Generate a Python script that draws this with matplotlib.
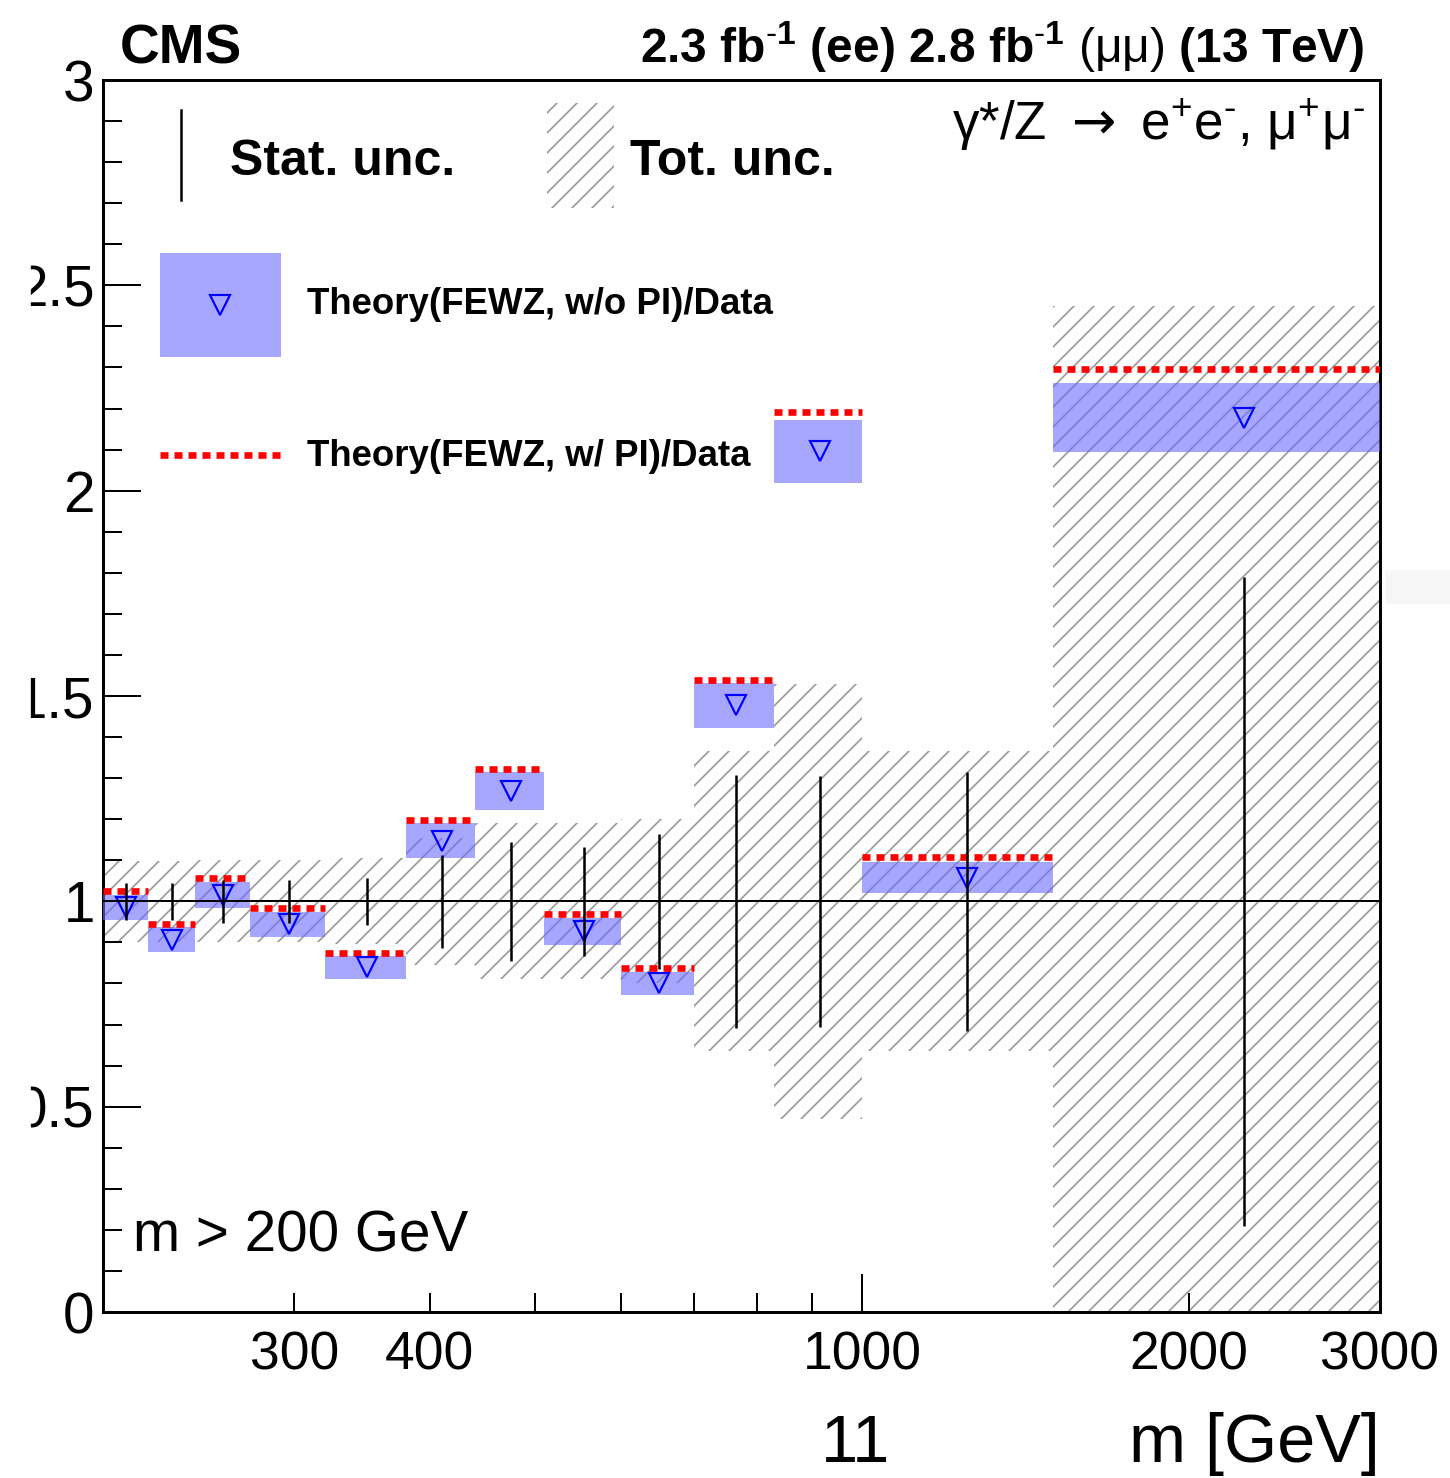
import numpy as np
import matplotlib
matplotlib.use("Agg")
import matplotlib.pyplot as plt
from matplotlib.patches import Rectangle
from matplotlib.ticker import MultipleLocator, FuncFormatter

plt.rcParams['font.family'] = 'Liberation Sans'
plt.rcParams['mathtext.fontset'] = 'custom'
plt.rcParams['mathtext.rm'] = 'Liberation Sans'
plt.rcParams['mathtext.bf'] = 'Liberation Sans:bold'
plt.rcParams['mathtext.sf'] = 'DejaVu Sans'
plt.rcParams['mathtext.default'] = 'regular'
plt.rcParams['hatch.linewidth'] = 1.0

# bin edges in GeV
edges = np.array([200, 220, 243, 273, 320, 380, 440, 510, 600, 700, 830, 1000, 1500, 3000])
# Theory(FEWZ, w/o PI)/Data and its uncertainty (half width)
th_nopi = np.array([0.985, 0.907, 1.016, 0.944, 0.839, 1.148, 1.268, 0.927, 0.800, 1.477, 2.096, 1.058, 2.178])
th_err = np.array([0.030, 0.030, 0.032, 0.031, 0.028, 0.043, 0.046, 0.033, 0.028, 0.055, 0.077, 0.038, 0.084])
# Theory(FEWZ, w/ PI)/Data
th_pi = np.array([1.024, 0.944, 1.057, 0.983, 0.875, 1.197, 1.322, 0.968, 0.838, 1.540, 2.192, 1.108, 2.296])
# data uncertainties around 1
stat_unc = np.array([0.045, 0.045, 0.053, 0.052, 0.057, 0.113, 0.145, 0.133, 0.165, 0.308, 0.305, 0.315, 0.79])
tot_unc = np.array([0.098, 0.098, 0.100, 0.100, 0.105, 0.155, 0.190, 0.190, 0.200, 0.365, 0.530, 0.365, 1.45])

centers = 0.5 * (edges[:-1] + edges[1:])
widths = np.diff(edges)

W, H = 1450, 1478
fig = plt.figure(figsize=(W / 120, H / 120), dpi=120)
ax = fig.add_axes([103 / W, 1 - 1312 / H, 1277 / W, 1232 / H])

def fx(px):
    return px / W

def fy(py):
    return 1 - py / H

blue = (0.42, 0.42, 1.0)
hatch_grey = '#999999'

# total uncertainty band
ax.stairs(1 + tot_unc, edges, baseline=1 - tot_unc, fill=True, facecolor='none',
          edgecolor=hatch_grey, hatch='//', linewidth=0, zorder=1)
# theory w/o PI boxes
ax.bar(edges[:-1], 2 * th_err, width=widths, bottom=th_nopi - th_err, align='edge',
       color=blue, alpha=0.6, linewidth=0, zorder=3)
# theory w/ PI
ax.hlines(th_pi, edges[:-1], edges[1:], colors='red', linewidth=4,
          linestyles=(0, (1.2, 0.9)), zorder=4)
ax.plot(centers, th_nopi, 'v', mfc='none', mec='blue', ms=12, mew=1.3, zorder=5)
# stat uncertainty
ax.vlines(centers, 1 - stat_unc, 1 + stat_unc, colors='black', linewidth=1.5, zorder=6)
ax.axhline(1, color='black', linewidth=1.2, zorder=6)

ax.set_xscale('log')
ax.set_xlim(200, 3000)
ax.set_ylim(0, 3)

ax.set_xticks([1000], labels=['1000'])
ax.set_xticks([300, 400, 500, 600, 700, 800, 900, 2000, 3000],
              labels=['300', '400', '', '', '', '', '', '2000', '3000'], minor=True)
ax.yaxis.set_major_locator(MultipleLocator(0.5))
ax.yaxis.set_minor_locator(MultipleLocator(0.1))
ax.yaxis.set_major_formatter(FuncFormatter(lambda v, p: '%g' % v))
ax.tick_params(which='both', direction='in', top=False, right=False, width=1.2)
ax.tick_params(which='major', length=23)
ax.tick_params(which='minor', length=11.5)
ax.tick_params(axis='x', which='both', labelsize=32, pad=11)
ax.tick_params(axis='y', labelsize=34, pad=5)
for s in ax.spines.values():
    s.set_linewidth(1.8)

# legend drawn by hand
ax.plot([fx(181), fx(181)], [fy(110), fy(200)], color='black', lw=1.5,
        transform=fig.transFigure, clip_on=False)
fig.text(fx(230), fy(175), 'Stat. unc.', fontsize=30, weight='bold')
ax.add_patch(Rectangle((fx(547), fy(208)), fx(614) - fx(547), fy(103) - fy(208),
                       transform=fig.transFigure, facecolor='none', edgecolor=hatch_grey,
                       hatch='//', linewidth=0, clip_on=False))
fig.text(fx(630), fy(175), 'Tot. unc.', fontsize=30, weight='bold')
ax.add_patch(Rectangle((fx(160), fy(357)), fx(281) - fx(160), fy(253) - fy(357),
                       transform=fig.transFigure, color=blue, alpha=0.6, linewidth=0,
                       clip_on=False))
ax.plot([fx(220)], [fy(305)], 'v', mfc='none', mec='blue', ms=12, mew=1.3,
        transform=fig.transFigure, clip_on=False)
fig.text(fx(307), fy(314), 'Theory(FEWZ, w/o PI)/Data', fontsize=22, weight='bold')
ax.plot([fx(160), fx(281)], [fy(455), fy(455)], color='red', lw=4,
        dashes=(1.2, 0.9), transform=fig.transFigure, clip_on=False)
fig.text(fx(307), fy(466), 'Theory(FEWZ, w/ PI)/Data', fontsize=22, weight='bold')

fig.text(fx(1365), fy(140),
         r'$\gamma$*/Z $\mathsf{\rightarrow}$ e$^{+}$e$^{\text{-}}$, $\mu^{+}\mu^{\text{-}}$',
         fontsize=31.8, ha='right')
fig.text(fx(133), fy(1252), 'm > 200 GeV', fontsize=34)
fig.text(fx(120), fy(63), 'CMS', fontsize=33, weight='bold')
fig.text(fx(1365), fy(63),
         r'2.3 fb$^{\text{-}1}$ (ee) 2.8 fb$^{\text{-}1}$ $\mathrm{(\mu\mu)}$ (13 TeV)',
         fontsize=28.7, weight='bold', ha='right')
fig.text(fx(1380), fy(1462), 'm [GeV]', fontsize=41, ha='right')
fig.text(fx(856), fy(1462), '11', fontsize=40, ha='center')

# page crop at the left edge and a faint grey mark on the right
fig.patches.append(Rectangle((0, 0), fx(30), 1, transform=fig.transFigure,
                             color='white', zorder=10))
fig.patches.append(Rectangle((fx(1386), fy(603)), fx(1450) - fx(1386), fy(571) - fy(603),
                             transform=fig.transFigure, color='#f6f6f6', zorder=10))

fig.savefig('out.png', dpi=120)
